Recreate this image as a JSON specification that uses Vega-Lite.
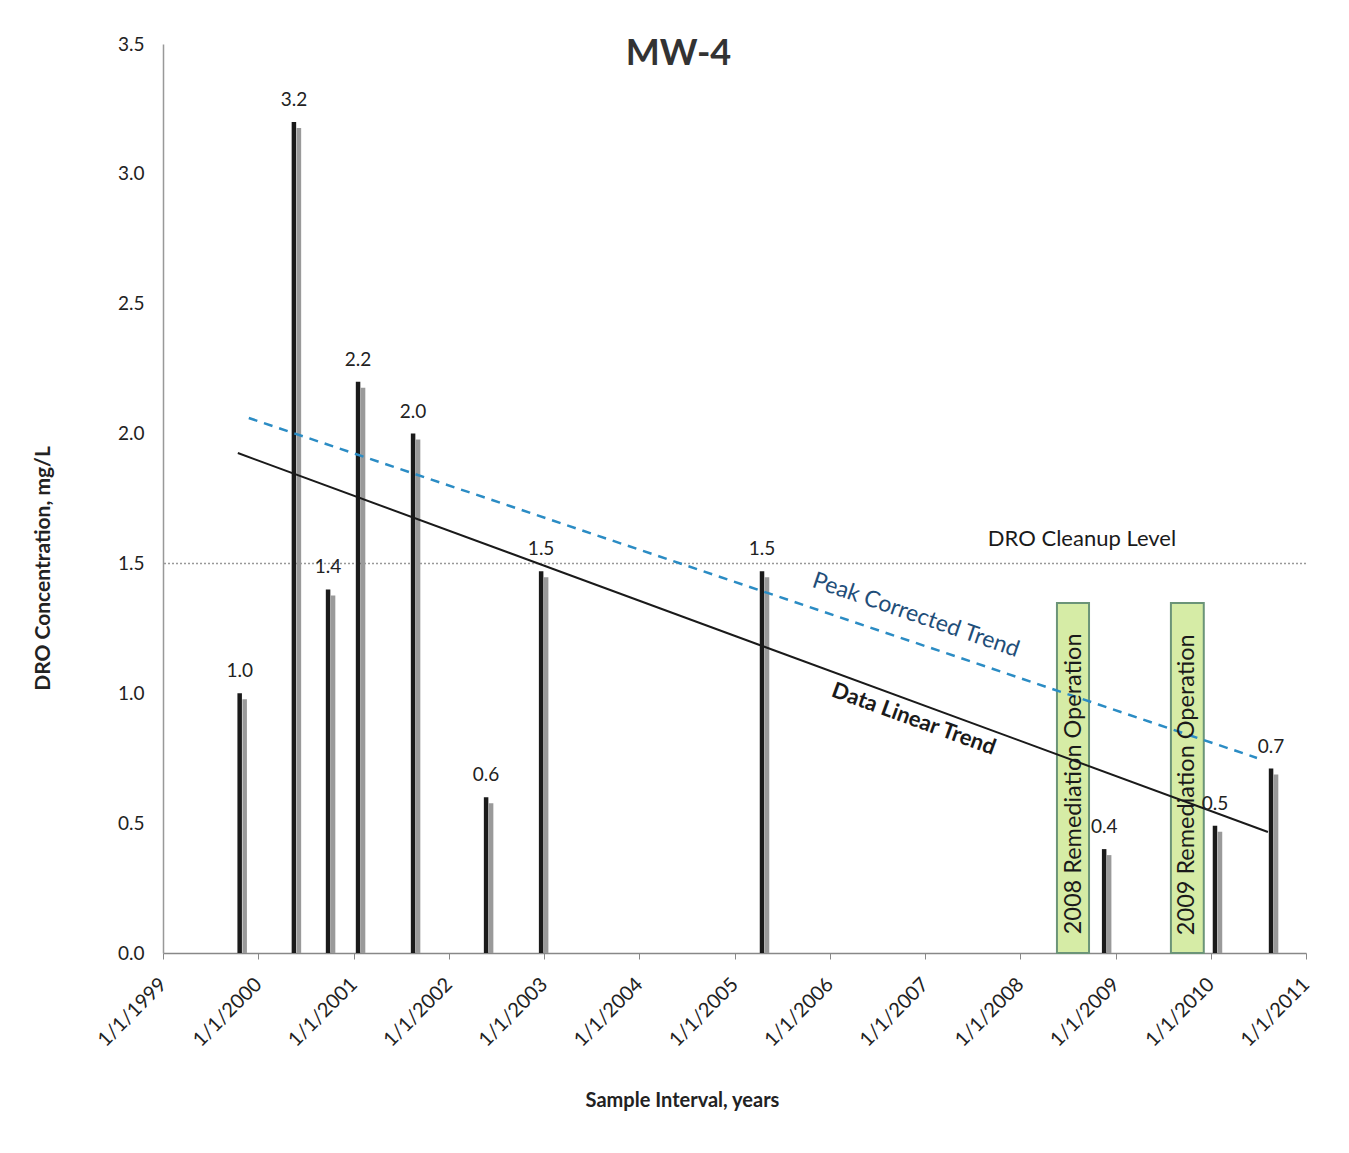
{
  "$schema": "https://vega.github.io/schema/vega-lite/v6.json",
  "autosize": {"type": "none"},
  "width": 1143,
  "height": 909,
  "padding": {"left": 163, "top": 44, "right": 43, "bottom": 200},
  "background": "white",
  "config": {
    "font": "Lato",
    "view": {"stroke": null}
  },
  "title": {
    "text": "MW-4",
    "font": "Lato",
    "fontSize": 36,
    "fontWeight": "bold",
    "color": "#333333",
    "anchor": "middle",
    "frame": "group",
    "offset": -38,
    "dx": -56
  },
  "datasets": {
    "samples": [
      {"date": "1999-10-22", "conc": 1.0, "label": "1.0"},
      {"date": "2000-05-17", "conc": 3.2, "label": "3.2"},
      {"date": "2000-09-25", "conc": 1.4, "label": "1.4"},
      {"date": "2001-01-18", "conc": 2.2, "label": "2.2"},
      {"date": "2001-08-17", "conc": 2.0, "label": "2.0"},
      {"date": "2002-05-24", "conc": 0.6, "label": "0.6"},
      {"date": "2002-12-21", "conc": 1.47, "label": "1.5"},
      {"date": "2005-04-16", "conc": 1.47, "label": "1.5"},
      {"date": "2008-11-18", "conc": 0.4, "label": "0.4"},
      {"date": "2010-01-17", "conc": 0.49, "label": "0.5"},
      {"date": "2010-08-20", "conc": 0.71, "label": "0.7"}
    ],
    "ops": [
      {"start": "2008-05-21", "end": "2008-09-21", "top": 1.348, "mid": "2008-07-25", "textY": 0.651, "label": "2008 Remediation Operation"},
      {"start": "2009-08-01", "end": "2009-12-05", "top": 1.348, "mid": "2009-10-01", "textY": 0.648, "label": "2009 Remediation Operation"}
    ],
    "linear": [
      {"date": "1999-10-15", "value": 1.925},
      {"date": "2010-08-08", "value": 0.466}
    ],
    "peak": [
      {"date": "1999-11-26", "value": 2.06},
      {"date": "2010-06-27", "value": 0.751}
    ]
  },
  "encoding": {
    "x": {
      "field": "date",
      "type": "temporal",
      "scale": {
        "type": "utc",
        "domain": [
          {"year": 1999, "month": 1, "date": 1, "utc": true},
          {"year": 2011, "month": 1, "date": 1, "utc": true}
        ]
      },
      "axis": {
        "values": [
          {"year": 1999, "month": 1, "date": 1, "utc": true},
          {"year": 2000, "month": 1, "date": 1, "utc": true},
          {"year": 2001, "month": 1, "date": 1, "utc": true},
          {"year": 2002, "month": 1, "date": 1, "utc": true},
          {"year": 2003, "month": 1, "date": 1, "utc": true},
          {"year": 2004, "month": 1, "date": 1, "utc": true},
          {"year": 2005, "month": 1, "date": 1, "utc": true},
          {"year": 2006, "month": 1, "date": 1, "utc": true},
          {"year": 2007, "month": 1, "date": 1, "utc": true},
          {"year": 2008, "month": 1, "date": 1, "utc": true},
          {"year": 2009, "month": 1, "date": 1, "utc": true},
          {"year": 2010, "month": 1, "date": 1, "utc": true},
          {"year": 2011, "month": 1, "date": 1, "utc": true}
        ],
        "format": "%-m/%-d/%Y",
        "grid": false,
        "ticks": true,
        "tickSize": 6,
        "tickColor": "#888888",
        "domainColor": "#888888",
        "domainWidth": 1.5,
        "labelAngle": -45,
        "labelAlign": "right",
        "labelBaseline": "middle",
        "labelPadding": 22,
        "labelFont": "Lato",
        "labelFontSize": 20,
        "labelColor": "#222222",
        "labelOverlap": false,
        "title": "Sample Interval, years",
        "titleFont": "Lato",
        "titleFontSize": 20,
        "titleFontWeight": "bold",
        "titleColor": "#222222",
        "titlePadding": 40,
        "titleX": 519
      }
    },
    "y": {
      "type": "quantitative",
      "scale": {"domain": [0, 3.5], "nice": false},
      "axis": {
        "values": [0, 0.5, 1, 1.5, 2, 2.5, 3, 3.5],
        "format": ".1f",
        "grid": false,
        "ticks": false,
        "domainColor": "#999999",
        "domainWidth": 1.5,
        "labelPadding": 19,
        "labelFont": "Lato",
        "labelFontSize": 19,
        "labelColor": "#222222",
        "title": "DRO Concentration, mg/L",
        "titleFont": "Lato",
        "titleFontSize": 21,
        "titleFontWeight": "bold",
        "titleColor": "#222222",
        "titlePadding": 64,
        "titleY": 524
      }
    }
  },
  "layer": [
    {
      "data": {"values": [{"level": 1.5}]},
      "mark": {"type": "rule", "color": "#999999", "strokeWidth": 1.5, "strokeDash": [2, 2], "x2Offset": 12},
      "encoding": {"x": null, "y": {"field": "level", "type": "quantitative"}}
    },
    {
      "data": {"name": "ops"},
      "mark": {"type": "rect", "fill": "#d6eca6", "stroke": "#6b9478", "strokeWidth": 2},
      "encoding": {
        "x": {"field": "start", "type": "temporal"},
        "x2": {"field": "end"},
        "y": {"field": "top", "type": "quantitative"},
        "y2": {"datum": 0}
      }
    },
    {
      "data": {"name": "samples"},
      "mark": {"type": "rule", "color": "#9a9a9a", "strokeWidth": 4.5, "xOffset": 5, "yOffset": 6},
      "encoding": {
        "y": {"field": "conc", "type": "quantitative"},
        "y2": {"datum": 0}
      }
    },
    {
      "data": {"name": "samples"},
      "mark": {"type": "rule", "color": "#1a1a1a", "strokeWidth": 4.5},
      "encoding": {
        "y": {"field": "conc", "type": "quantitative"},
        "y2": {"datum": 0}
      }
    },
    {
      "data": {"name": "linear"},
      "mark": {"type": "line", "color": "#1a1a1a", "strokeWidth": 2},
      "encoding": {"y": {"field": "value", "type": "quantitative"}}
    },
    {
      "data": {"name": "peak"},
      "mark": {"type": "line", "color": "#2b8cc4", "strokeWidth": 2.5, "strokeDash": [9, 7]},
      "encoding": {"y": {"field": "value", "type": "quantitative"}}
    },
    {
      "data": {"name": "samples"},
      "mark": {"type": "text", "fontSize": 19, "color": "#222222", "baseline": "middle", "dy": -22},
      "encoding": {
        "y": {"field": "conc", "type": "quantitative"},
        "text": {"field": "label"}
      }
    },
    {
      "data": {"name": "ops"},
      "mark": {"type": "text", "fontSize": 23.5, "color": "#1a1a1a", "angle": 270, "align": "center", "baseline": "middle"},
      "encoding": {
        "x": {"field": "mid", "type": "temporal"},
        "y": {"field": "textY", "type": "quantitative"},
        "text": {"field": "label"}
      }
    },
    {
      "data": {"values": [{"date": "2008-08-25", "value": 1.594, "label": "DRO Cleanup Level"}]},
      "mark": {"type": "text", "fontSize": 22, "color": "#1a1a1a", "align": "center", "baseline": "middle"},
      "encoding": {
        "y": {"field": "value", "type": "quantitative"},
        "text": {"field": "label"}
      }
    },
    {
      "data": {"values": [{"date": "2006-11-27", "value": 1.301, "label": "Peak Corrected Trend"}]},
      "mark": {"type": "text", "fontSize": 23, "color": "#1f4e79", "angle": 19, "align": "center", "baseline": "middle"},
      "encoding": {
        "y": {"field": "value", "type": "quantitative"},
        "text": {"field": "label"}
      }
    },
    {
      "data": {"values": [{"date": "2006-11-19", "value": 0.901, "label": "Data Linear Trend"}]},
      "mark": {"type": "text", "fontSize": 22, "fontWeight": "bold", "color": "#1a1a1a", "angle": 20, "align": "center", "baseline": "middle"},
      "encoding": {
        "y": {"field": "value", "type": "quantitative"},
        "text": {"field": "label"}
      }
    }
  ]
}
